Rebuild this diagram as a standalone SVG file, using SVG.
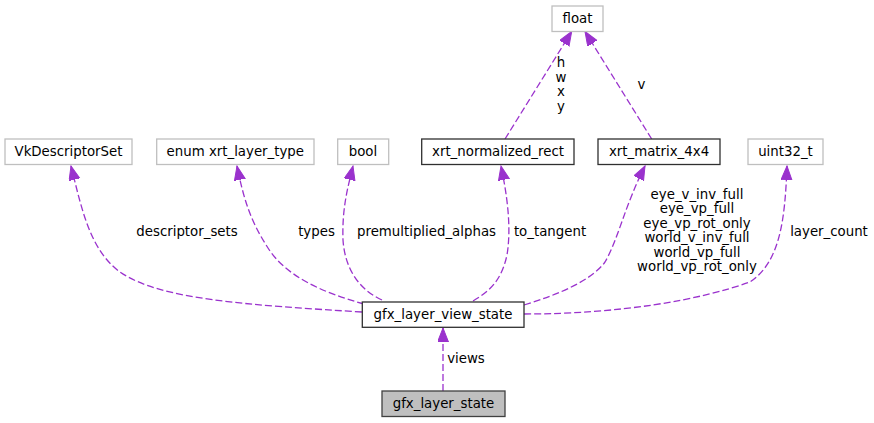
<svg xmlns="http://www.w3.org/2000/svg" width="874" height="423" viewBox="0 0 874 423">
<style>
text{font-family:"DejaVu Sans","Liberation Sans",sans-serif;font-size:13.33px;fill:#000;text-anchor:middle}
.ext rect{fill:#fff;stroke:#bfbfbf;stroke-width:1.3}
.doc rect{fill:#fff;stroke:#303030;stroke-width:1.3}
.root rect{fill:#bfbfbf;stroke:#404040;stroke-width:1.3}
.edge{fill:none;stroke:#9a32cd;stroke-width:1.3;stroke-dasharray:7,3;marker-end:url(#arr)}
</style>
<defs>
<marker id="arr" markerUnits="userSpaceOnUse" markerWidth="15" markerHeight="12" refX="14" refY="5.5" orient="auto">
<path d="M0,0 L14,5.5 L0,11 z" fill="#9a32cd" stroke="#9a32cd" stroke-width="1"/>
</marker>
</defs>
<rect width="874" height="423" fill="#fff"/>
<g id="connectors">
<path class="edge" d="M443,391 L443,328"/>
<path class="edge" d="M362,312 C250,305 160,300 120,272 C90,250 82,210 71,166"/>
<path class="edge" d="M364,304 C320,292 285,275 268,248 C250,220 244,200 237,166"/>
<path class="edge" d="M382,300 C360,290 345,270 343,240 C342,210 347,190 353,166"/>
<path class="edge" d="M473,301 C492,290 502,278 507,255 C512,225 506,190 501,166"/>
<path class="edge" d="M524,305 C560,294 592,280 605,262 C618,240 625,205 645,166"/>
<path class="edge" d="M524,314 C620,314 700,300 750,282 C780,262 785,220 787,166"/>
<path class="edge" d="M505,139 L571.7,31.5"/>
<path class="edge" d="M651.7,139 L585,31.5"/>
<text x="466" y="363">views</text>
<text x="187" y="236">descriptor_sets</text>
<text x="316.5" y="236">types</text>
<text x="426.5" y="236">premultiplied_alphas</text>
<text x="550" y="236">to_tangent</text>
<text x="829" y="236">layer_count</text>
<text x="697" y="198.5">eye_v_inv_full</text>
<text x="697" y="213">eye_vp_full</text>
<text x="697" y="227.5">eye_vp_rot_only</text>
<text x="697" y="242">world_v_inv_full</text>
<text x="697" y="256.5">world_vp_full</text>
<text x="697" y="271">world_vp_rot_only</text>
<text x="561" y="67">h</text>
<text x="561" y="81.5">w</text>
<text x="561" y="96">x</text>
<text x="561" y="110.5">y</text>
<text x="641.5" y="89">v</text>
</g>
<g id="gfx_layer_state" class="root"><rect x="382" y="391" width="123" height="25.5"/><text x="443.5" y="408">gfx_layer_state</text></g>
<g id="gfx_layer_view_state" class="doc"><rect x="362.3" y="302" width="161.7" height="25.3"/><text x="443" y="319">gfx_layer_view_state</text></g>
<g id="VkDescriptorSet" class="ext"><rect x="5" y="139" width="127" height="25.5"/><text x="68.5" y="156">VkDescriptorSet</text></g>
<g id="enum_xrt_layer_type" class="ext"><rect x="156.7" y="139" width="157.3" height="25.5"/><text x="235.3" y="156">enum xrt_layer_type</text></g>
<g id="bool" class="ext"><rect x="337.7" y="139" width="51" height="25.5"/><text x="363" y="156">bool</text></g>
<g id="xrt_normalized_rect" class="doc"><rect x="421.7" y="139" width="152.3" height="25.5"/><text x="498" y="156">xrt_normalized_rect</text></g>
<g id="xrt_matrix_4x4" class="doc"><rect x="598" y="139" width="122" height="25.5"/><text x="659" y="156">xrt_matrix_4x4</text></g>
<g id="uint32_t" class="ext"><rect x="748" y="139" width="75" height="25.5"/><text x="785.5" y="156">uint32_t</text></g>
<g id="float" class="ext"><rect x="552" y="6" width="51" height="25.5"/><text x="577.5" y="23">float</text></g>
</svg>
